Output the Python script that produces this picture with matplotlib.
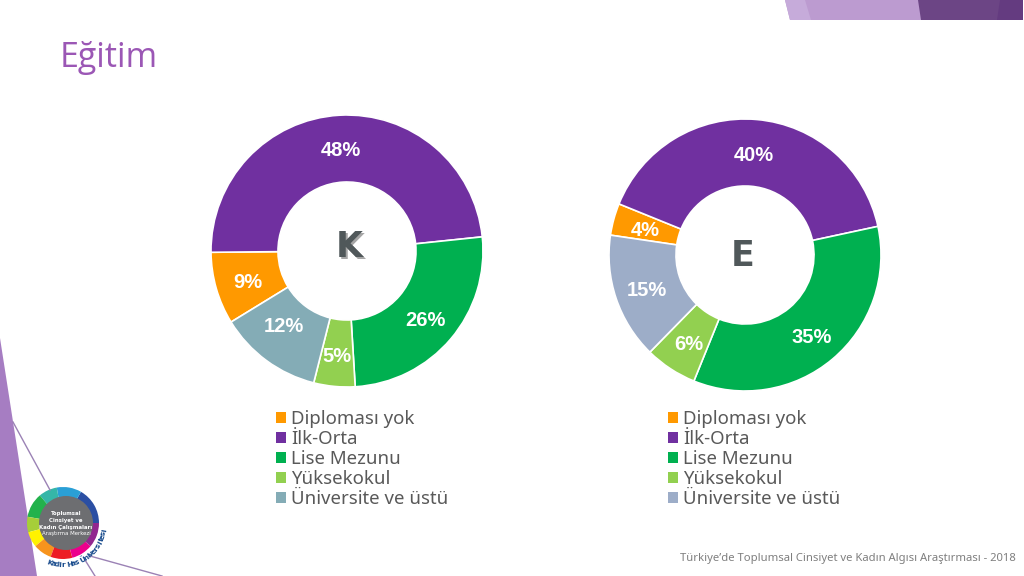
import math
import matplotlib
matplotlib.use("Agg")
import matplotlib.pyplot as plt
from matplotlib.patches import Polygon, Wedge, Circle, Patch

categories = ["Diploması yok", "İlk-Orta", "Lise Mezunu", "Yüksekokul", "Üniversite ve üstü"]
kadin = [8.6, 48.49, 25.7, 4.9, 12.31]
erkek = [3.8, 40.49, 34.51, 6.2, 15.0]

renk_k = ["#FF9900", "#7030A0", "#00B050", "#92D050", "#84ACB6"]
renk_e = ["#FF9900", "#7030A0", "#00B050", "#92D050", "#9DADC8"]
yazi = "#595959"
mor = "#9B57B5"

plt.rcParams["font.family"] = ["Noto Sans", "DejaVu Sans"]

fig = plt.figure(figsize=(10.24, 5.76), dpi=100)
ax = fig.add_axes([0, 0, 1, 1])


def Y(py):
    # piksel koordinati yukaridan olculdu
    return 576 - py


def halka(degerler, renkler, cx, cy, baslangic):
    _, _, yuzdeler = ax.pie(
        degerler,
        colors=renkler,
        center=(cx, Y(cy)),
        radius=136,
        startangle=baslangic,
        counterclock=False,
        autopct="%.0f%%",
        pctdistance=0.76,
        frame=True,
        wedgeprops=dict(width=67, edgecolor="white", linewidth=1.2),
        textprops=dict(color="white", fontsize=14.5, fontweight="bold", family="Liberation Sans"),
    )
    # yuzdeler referansta biraz daha asagida
    for t in yuzdeler:
        t.set_y(t.get_position()[1] - 3)
    return yuzdeler


yuzde_k = halka(kadin, renk_k, 347, 251, 211.5)
halka(erkek, renk_e, 745, 255, 171.6)
# %12 etiketi referansta elle yukari alinmis
x12, y12 = yuzde_k[4].get_position()
yuzde_k[4].set_position((x12 - 2, y12 + 11))
ax.set_xlim(0, 1024)
ax.set_ylim(0, 576)
ax.set_aspect("auto")
ax.axis("off")

# orta harfler
harf = dict(fontsize=25, fontweight="bold", family="DejaVu Sans", ha="center", va="center")
ax.text(351, Y(249), "K", color="#A6A6A6", **harf)
ax.text(349, Y(247), "K", color="#50585A", **harf)
ax.text(743, Y(256), "E", color="#50585A", **harf)

# lejantlar
for renkler, sol in ((renk_k, 276), (renk_e, 668)):
    tutamac = [Patch(facecolor=r, edgecolor="none") for r in renkler]
    leg = ax.legend(
        tutamac,
        categories,
        loc="upper left",
        bbox_to_anchor=(sol / 1024, 1 - 410 / 576),
        bbox_transform=fig.transFigure,
        frameon=False,
        fontsize=13.4,
        labelcolor=yazi,
        handlelength=0.52,
        handleheight=0.52,
        handletextpad=0.3,
        labelspacing=0.11,
        borderpad=0,
        borderaxespad=0,
    )
    ax.add_artist(leg)
ax.legend_ = None

# baslik ve dipnot
ax.text(60, Y(58), "Eğitim", color=mor, fontsize=24.5, family="Open Sans", ha="left", va="center")
ax.text(
    1016, Y(558),
    "Türkiye’de Toplumsal Cinsiyet ve Kadın Algısı Araştırması - 2018",
    color="#7F7F7F", fontsize=8.1, ha="right", va="center",
)

# slayt susleri, sag ust
ust = [
    ([(785, 0), (921, 0), (921, 20), (790, 20)], "#BC9BD0"),
    ([(785, 0), (805, 0), (811, 20), (790, 20)], "#C6ABDA"),
    ([(918, 0), (1023, 0), (1023, 20), (921, 20)], "#6C4585"),
    ([(1000, 0), (1023, 0), (1023, 20), (997, 20)], "#643B80"),
]
for nokta, renk in ust:
    ax.add_patch(Polygon([(x, Y(y)) for x, y in nokta], closed=True, facecolor=renk, edgecolor="none"))

# sol alt
ax.add_patch(Polygon([(0, Y(338)), (37, Y(576)), (0, Y(576))], closed=True, facecolor="#A67DC2", edgecolor="none"))
for x0, y0, x1, y1 in ((13, 422, 50, 490), (90, 556, 162, 576), (85, 560, 95, 576)):
    ax.plot([x0, x1], [Y(y0), Y(y1)], color="#9B82B5", lw=1)

# logo
lx, ly = 63, 523
logo_renk = ["#2B4FA3", "#2A9FD6", "#35B6A8", "#22B24C", "#A6CE39", "#FFF200",
             "#F7941D", "#ED1C24", "#EC008C", "#92278F"]
logo_aci = [0, 60, 100, 130, 170, 195, 220, 250, 285, 320, 360]
for i, renk in enumerate(logo_renk):
    ax.add_patch(Wedge((lx, Y(ly)), 36, logo_aci[i], logo_aci[i + 1], facecolor=renk, edgecolor="none"))
ax.add_patch(Circle((lx + 3, Y(ly)), 27, facecolor="#6D6E71", edgecolor="none"))
satirlar = [("Toplumsal", 514), ("Cinsiyet ve", 520.5), ("Kadın Çalışmaları", 527), ("Araştırma Merkezi", 533.5)]
for metin, py in satirlar:
    ax.text(lx + 3, Y(py), metin, color="white", fontsize=3.9, family="DejaVu Sans",
            fontweight="bold" if py < 533 else "normal", ha="center", va="center")

# logo alti yazi, yay uzerinde
yay_metin = "Kadir Has Üniversitesi"
for i, karakter in enumerate(yay_metin):
    a = math.radians(-108 + i * 98 / (len(yay_metin) - 1))
    ax.text(lx + 42 * math.cos(a), Y(ly) + 42 * math.sin(a), karakter, color="#174A8C", fontsize=5.2,
            family="DejaVu Sans", fontweight="bold", rotation=math.degrees(a) + 90, ha="center", va="center")

fig.savefig("out.png", dpi=100)
